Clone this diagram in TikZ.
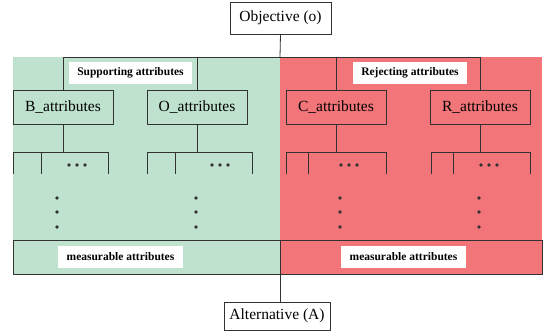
\documentclass[tikz,border=0pt]{standalone}
\usepackage{fontspec}
\setmainfont{Liberation Serif}
\usetikzlibrary{positioning}

\definecolor{supgreen}{RGB}{191,226,207}
\definecolor{rejred}{RGB}{242,118,121}
\definecolor{linegray}{RGB}{50,50,50}

\tikzset{
    attbox/.style={draw=linegray, line width=0.8pt, minimum width=100pt, minimum height=34pt,
        inner sep=0pt, text=black, font=\fontsize{15.5}{18}\selectfont},
    endbox/.style={draw=linegray, line width=0.8pt, fill=white, inner sep=0pt,
        text=black, font=\fontsize{15.5}{18}\selectfont},
    measbox/.style={draw=linegray, line width=0.8pt, minimum height=34pt, inner sep=0pt},
    tag/.style={fill=white, inner sep=0pt, minimum height=22pt, text=black,
        font=\bfseries\fontsize{11.5}{13}\selectfont},
    wire/.style={draw=linegray, line width=0.8pt},
}

\begin{document}
\begin{tikzpicture}[x=1pt, y=-1pt]
    \useasboundingbox (0,0) rectangle (548,331);

    % Coloured halves
    \fill[supgreen] (13,57) rectangle (280,274);
    \fill[rejred] (280,57) rectangle (542,274);

    % Objective and alternative
    \node[endbox, minimum width=101pt, minimum height=32pt] (obj) at (280.5,18) {Objective (o)};
    \node[endbox, minimum width=106pt, minimum height=28pt] (alt) at (277,316) {Alternative (A)};

    % Attribute groups
    \node[attbox] (batt) at (63,107) {B\_attributes};
    \node[attbox] (oatt) at (197,107) {O\_attributes};
    \node[attbox] (catt) at (336,107) {C\_attributes};
    \node[attbox] (ratt) at (480,107) {R\_attributes};

    % Measurable attributes
    \node[measbox, minimum width=267pt] (mleft) at (146.5,257) {};
    \node[measbox, minimum width=262pt] (mright) at (411,257) {};

    % Tree lines
    \coordinate (top) at (280,57);
    \coordinate (hl) at (0,152);
    \draw[wire] (obj.south) -- (top);
    \draw[wire] (batt.north |- top) -- (ratt.north |- top);
    \foreach \n in {batt,oatt,catt,ratt}
        \draw[wire] (\n.north |- top) -- (\n.north);
    \draw[wire] (mleft.south east) -- (mleft.south east |- alt.north);

    % Branches below each group
    \foreach \n/\l/\m/\r/\d/\v in {batt/13/41/108/77/57, oatt/147/175/252/220/196,
                                  catt/286/308/386/349/340, ratt/431/453/530/489/479}{
        \draw[wire] (\n.south) -- (\n.south |- hl);
        \draw[wire] (\l,174) -- (\l,152) -- (\r,152) -- (\r,174);
        \draw[wire] (\m,152) -- (\m,174);
        \foreach \k in {-8,0,8}
            \fill[linegray] (\d+\k,165) circle (1.9pt);
        \foreach \y in {198,212,227}
            \fill[linegray] (\v,\y) circle (1.9pt);
    }

    % Labels
    \node[tag, minimum width=123pt] (sup) at (130.5,73) {Supporting attributes};
    \node[tag, minimum width=114pt] (rej) at (410,73) {Rejecting attributes};
    \node[tag, minimum width=125pt] (mlab) at (120.5,257) {measurable attributes};
    \node[tag, minimum width=125pt] (mlabr) at (403.5,257) {measurable attributes};
\end{tikzpicture}
\end{document}
